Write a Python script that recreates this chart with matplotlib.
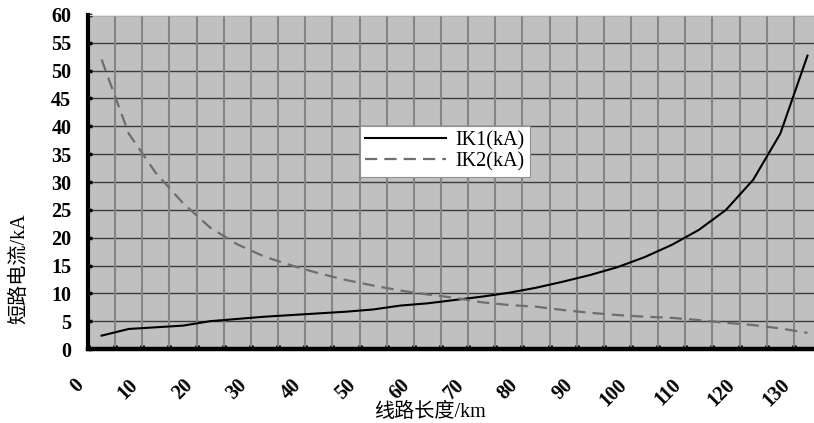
import numpy as np
import matplotlib
matplotlib.use("Agg")
import matplotlib.pyplot as plt
from matplotlib.ticker import MultipleLocator

# line length (km) at each category centre
km = [2.5, 7.5, 12.5, 17.5, 22.5, 27.5, 32.5, 37.5, 42.5, 47.5, 52.5, 57.5, 62.5, 67.5,
      72.5, 77.5, 82.5, 87.5, 92.5, 97.5, 102.5, 107.5, 112.5, 117.5, 122.5, 127.5, 132.5]
ik1 = [2.4, 3.6, 3.9, 4.2, 5.0, 5.4, 5.8, 6.1, 6.4, 6.7, 7.1, 7.8, 8.2, 8.8,
       9.4, 10.1, 11.0, 12.1, 13.3, 14.7, 16.5, 18.7, 21.4, 25.0, 30.4, 38.7, 52.7]
ik2 = [52.0, 38.7, 31.6, 26.2, 21.8, 18.8, 16.6, 15.0, 13.6, 12.4, 11.4, 10.5, 9.8, 9.2,
       8.4, 7.9, 7.6, 7.0, 6.5, 6.1, 5.8, 5.6, 5.2, 4.7, 4.3, 3.7, 2.9]
labels = ["IK1(kA)", "IK2(kA)"]
xlab = "线路长度/km"
ylab = "短路电流/kA"

fam = ["Liberation Serif", "Noto Sans CJK SC", "DejaVu Sans"]
plt.rcParams["font.family"] = fam

fig = plt.figure(figsize=(8.14, 4.23), dpi=100)
ax = fig.add_axes([88/814, 74/423, 726/814, 334/423])
ax.set_facecolor("#c0c0c0")

ax.plot(km, ik1, color="black", lw=1.5, label=labels[0], zorder=3)
ax.plot(km, ik2, color="#6e6e6e", lw=1.6, dashes=(5.5, 3.2), label=labels[1], zorder=3)

ax.set_xlim(0, 133.7)
ax.set_ylim(0, 60)
ax.xaxis.set_major_locator(MultipleLocator(10))
ax.xaxis.set_minor_locator(MultipleLocator(5))
ax.yaxis.set_major_locator(MultipleLocator(5))

# grid: vertical lines every 5 km lighter, horizontal darker
for xv in np.arange(5, 134, 5):
    ax.axvline(xv, color="#858585", lw=1.5, zorder=1)
ax.grid(axis="y", color="#3c3c3c", lw=1.0, zorder=1)
ax.set_axisbelow(True)

ax.spines["right"].set_visible(False)
ax.spines["top"].set_color("#e6e6e6")
ax.spines["top"].set_linewidth(1.0)
ax.spines["left"].set_linewidth(3.0)
ax.spines["bottom"].set_linewidth(3.2)
ax.spines["left"].set_zorder(4)
ax.spines["bottom"].set_zorder(4)

ax.tick_params(axis="x", which="both", direction="in", length=3, width=3.5,
               color="black", pad=19)
ax.tick_params(axis="y", which="major", direction="in", length=3, width=2.5,
               color="black", pad=12)
for t in ax.get_xticklabels():
    t.set_rotation(45)
    t.set_ha("right")
    t.set_va("top")
for t in ax.get_xticklabels() + ax.get_yticklabels():
    t.set_fontsize(14.5)
    t.set_fontweight("bold")
    t.set_family(fam)

ax.set_xlabel(xlab, fontsize=14.5, family=fam, va="center")
ax.xaxis.set_label_coords(0.471, -0.19)
ax.set_ylabel(ylab, fontsize=14.5, family=fam, va="center")
ax.yaxis.set_label_coords(-0.094, 0.24)

leg = ax.legend(loc="upper left", bbox_to_anchor=(0.3747, 0.6677), fontsize=14.5,
                handlelength=4.0, frameon=True, fancybox=False, framealpha=1,
                borderpad=0.25, labelspacing=0.1, handletextpad=0.5, borderaxespad=0)
leg.get_frame().set_edgecolor("#909090")
leg.get_frame().set_linewidth(0.8)

fig.savefig("out.png", dpi=100)
